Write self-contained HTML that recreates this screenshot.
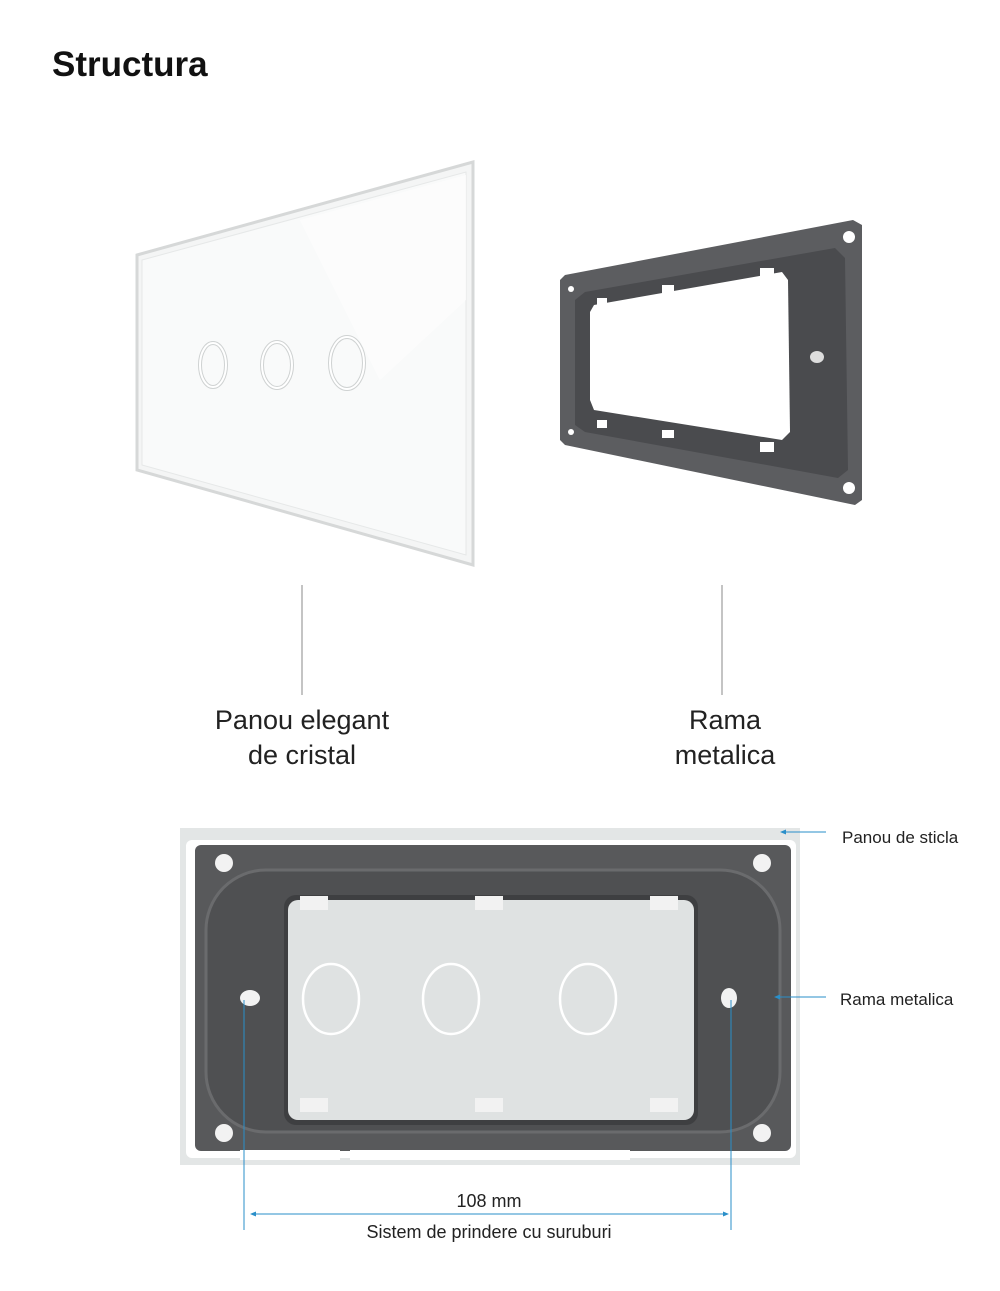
<!DOCTYPE html>
<html><head><meta charset="utf-8"><style>
body{margin:0;background:#fff;width:1000px;height:1286px;overflow:hidden;font-family:"Liberation Sans",sans-serif}
</style></head><body>
<svg width="1000" height="1286" viewBox="0 0 1000 1286" xmlns="http://www.w3.org/2000/svg" font-family="Liberation Sans, sans-serif">
<text x="52" y="76" font-size="35" font-weight="bold" fill="#111">Structura</text>
<!-- glass panel -->
<polygon points="137,255 473,162 473,565 137,470" fill="#f4f5f5" stroke="#d6d8d8" stroke-width="3"/>
<polygon points="142,260 466,172 466,555 142,465" fill="#f9fafa" stroke="#e6e8e8" stroke-width="1"/>
<polygon points="300,220 466,175 466,300 380,380" fill="#fdfdfd" opacity=".8"/>
<ellipse cx="213" cy="365" rx="13" ry="22" fill="none" stroke="#cfd2d2" stroke-width="4"/>
<ellipse cx="213" cy="365" rx="13" ry="22" fill="none" stroke="#fff" stroke-width="2"/>
<ellipse cx="277" cy="365" rx="15" ry="23" fill="none" stroke="#cfd2d2" stroke-width="4"/>
<ellipse cx="277" cy="365" rx="15" ry="23" fill="none" stroke="#fff" stroke-width="2"/>
<ellipse cx="347" cy="363" rx="17" ry="26" fill="none" stroke="#cfd2d2" stroke-width="4"/>
<ellipse cx="347" cy="363" rx="17" ry="26" fill="none" stroke="#fff" stroke-width="2"/>
<!-- metal frame -->
<polygon points="565,275 853,220 862,225 862,500 855,505 565,445 560,440 560,280" fill="#5c5d60"/>
<polygon points="585,292 835,248 845,258 848,470 838,478 585,432 575,425 575,300" fill="#4a4b4e"/>
<polygon points="594,305 782,272 788,280 790,432 782,440 594,410 590,400 590,312" fill="#fff"/>
<rect x="597" y="298" width="10" height="8" fill="#fff"/><rect x="662" y="285" width="12" height="8" fill="#fff"/><rect x="760" y="268" width="14" height="10" fill="#fff"/>
<rect x="597" y="420" width="10" height="8" fill="#fff"/><rect x="662" y="430" width="12" height="8" fill="#fff"/><rect x="760" y="442" width="14" height="10" fill="#fff"/>
<circle cx="849" cy="237" r="6" fill="#fff"/><circle cx="849" cy="488" r="6" fill="#fff"/><circle cx="571" cy="289" r="3" fill="#fff"/><circle cx="571" cy="432" r="3" fill="#fff"/>
<ellipse cx="817" cy="357" rx="7" ry="6" fill="#ddd"/>
<!-- connectors top -->
<line x1="302" y1="585" x2="302" y2="695" stroke="#888" stroke-width="1"/>
<line x1="722" y1="585" x2="722" y2="695" stroke="#888" stroke-width="1"/>
<g font-size="27" fill="#222" text-anchor="middle">
<text x="302" y="729">Panou elegant</text><text x="302" y="764">de cristal</text>
<text x="725" y="729">Rama</text><text x="725" y="764">metalica</text></g>
<!-- bottom -->
<rect x="180" y="828" width="620" height="337" fill="#e3e6e6"/>
<rect x="186" y="840" width="610" height="318" rx="6" fill="#fff"/>
<rect x="195" y="845" width="596" height="306" rx="6" fill="#58595b"/>
<rect x="206" y="870" width="574" height="262" rx="60" fill="#4f5052" stroke="#6a6b6d" stroke-width="3"/>
<rect x="284" y="895" width="414" height="230" rx="12" fill="#3e3f41"/>
<rect x="288" y="900" width="406" height="220" rx="10" fill="#dfe2e2"/>
<rect x="300" y="896" width="28" height="14" fill="#f2f2f2"/><rect x="475" y="896" width="28" height="14" fill="#f2f2f2"/><rect x="650" y="896" width="28" height="14" fill="#f2f2f2"/>
<rect x="300" y="1098" width="28" height="14" fill="#f2f2f2"/><rect x="475" y="1098" width="28" height="14" fill="#f2f2f2"/><rect x="650" y="1098" width="28" height="14" fill="#f2f2f2"/>
<rect x="240" y="1150" width="100" height="10" fill="#fff"/><rect x="350" y="1150" width="280" height="10" fill="#fff"/>
<circle cx="224" cy="863" r="9" fill="#f2f2f2"/><circle cx="762" cy="863" r="9" fill="#f2f2f2"/><circle cx="224" cy="1133" r="9" fill="#f2f2f2"/><circle cx="762" cy="1133" r="9" fill="#f2f2f2"/>
<ellipse cx="250" cy="998" rx="10" ry="8" fill="#f2f2f2"/><ellipse cx="729" cy="998" rx="8" ry="10" fill="#f2f2f2"/>
<ellipse cx="331" cy="999" rx="28" ry="35" fill="none" stroke="#fff" stroke-width="2.5"/>
<ellipse cx="451" cy="999" rx="28" ry="35" fill="none" stroke="#fff" stroke-width="2.5"/>
<ellipse cx="588" cy="999" rx="28" ry="35" fill="none" stroke="#fff" stroke-width="2.5"/>
<!-- blue dimension -->
<g stroke="#2a8fc9" stroke-width="1" fill="#2a8fc9">
<line x1="244" y1="1000" x2="244" y2="1230"/><line x1="731" y1="1000" x2="731" y2="1230"/>
<line x1="252" y1="1214" x2="727" y2="1214"/>
<polygon points="250,1214 256,1211.5 256,1216.5" stroke="none"/><polygon points="729,1214 723,1211.5 723,1216.5" stroke="none"/>
<line x1="783" y1="832" x2="826" y2="832"/><polygon points="780,832 786,829.5 786,834.5" stroke="none"/>
<line x1="777" y1="997" x2="826" y2="997"/><polygon points="774,997 780,994.5 780,999.5" stroke="none"/>
</g>
<g font-size="17" fill="#222"><text x="842" y="843">Panou de sticla</text><text x="840" y="1005">Rama metalica</text></g>
<g font-size="18" fill="#222" text-anchor="middle"><text x="489" y="1207">108 mm</text><text x="489" y="1238">Sistem de prindere cu suruburi</text></g>
</svg>
</body></html>
